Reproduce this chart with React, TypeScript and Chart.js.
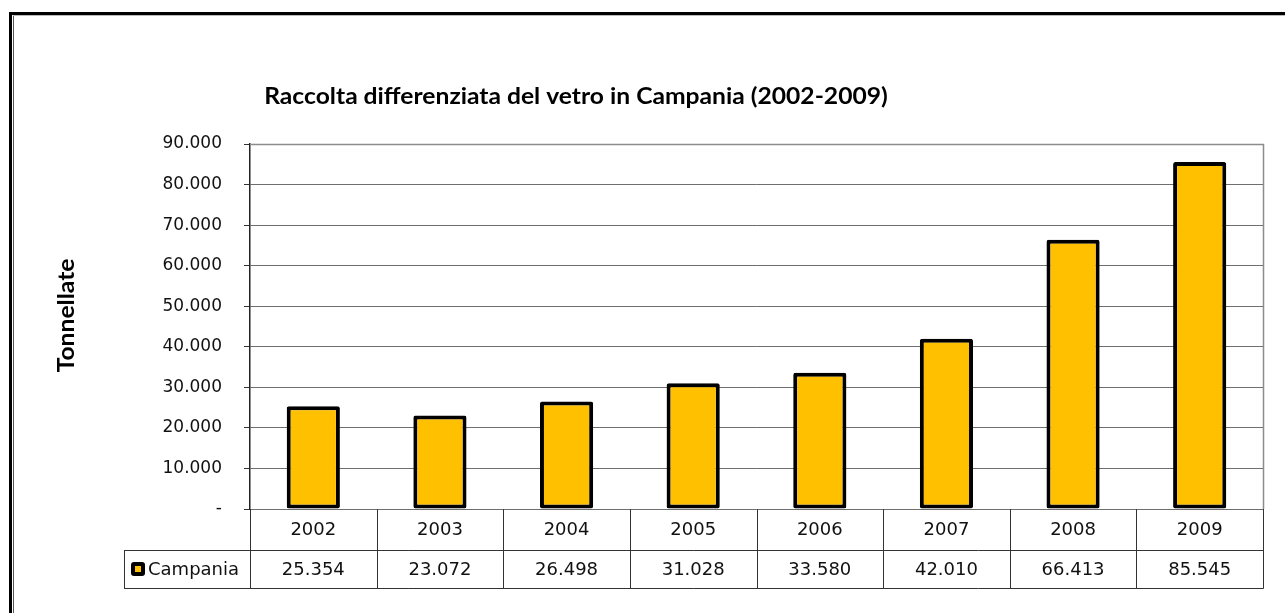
import React, { useEffect, useRef } from "react";
import { Chart, registerables } from "chart.js";

Chart.register(...registerables);

const TITLE = "Raccolta differenziata del vetro in Campania (2002-2009)";
const Y_TITLE = "Tonnellate";
const SERIES_NAME = "Campania";
const YEARS = ["2002", "2003", "2004", "2005", "2006", "2007", "2008", "2009"];
const VALUES = [25354, 23072, 26498, 31028, 33580, 42010, 66413, 85545];
const Y_MIN = 0;
const Y_MAX = 90000;
const Y_STEP = 10000;

const BAR_FILL = "#FFC000";
const TICK_FONT = "DejaVu Sans";
const TITLE_FONT = "Lato";
const TITLE_STRETCH = 1.12;

function fmt(n: number): string {
  if (n === 0) return "-";
  return String(n).replace(/\B(?=(\d{3})+(?!\d))/g, ".");
}

const framePlugin = {
  id: "frame",
  beforeDraw(chart: any) {
    const { ctx, width, height } = chart;
    ctx.save();
    ctx.fillStyle = "#ffffff";
    ctx.fillRect(0, 0, width, height);
    ctx.fillStyle = "#000";
    ctx.fillRect(9, 12, 3, height - 12);
    ctx.fillRect(9, 12, width - 9, 3);
    ctx.fillStyle = "#555";
    ctx.fillRect(13, 15, 1, height - 15);
    ctx.fillStyle = "#bbb";
    ctx.fillRect(13, 15, width - 13, 1);
    ctx.restore();
  },
};

const titlePlugin = {
  id: "customTitle",
  afterDraw(chart: any) {
    const { ctx, chartArea } = chart;
    ctx.save();
    ctx.fillStyle = "#000";
    ctx.font = `bold 22px ${TITLE_FONT}`;
    ctx.textAlign = "center";
    ctx.textBaseline = "alphabetic";
    ctx.translate(576, 104);
    ctx.scale(TITLE_STRETCH, 1);
    ctx.fillText(TITLE, 0, 0);
    ctx.restore();

    // axis title
    ctx.save();
    ctx.fillStyle = "#000";
    ctx.font = `bold 22px ${TITLE_FONT}`;
    ctx.textAlign = "center";
    ctx.textBaseline = "middle";
    ctx.translate(67, (chartArea.top + chartArea.bottom) / 2 - 11);
    ctx.rotate(-Math.PI / 2);
    ctx.scale(TITLE_STRETCH, 1);
    ctx.fillText(Y_TITLE, 0, 0);
    ctx.restore();
  },
};

const plotBorderPlugin = {
  id: "plotBorder",
  beforeDatasetsDraw(chart: any) {
    const { ctx, chartArea } = chart;
    const { left, right, top, bottom } = chartArea;
    ctx.save();
    ctx.strokeStyle = "#8c8c8c";
    ctx.lineWidth = 1.5;
    ctx.beginPath();
    ctx.moveTo(left, top + 0.5);
    ctx.lineTo(right + 0.5, top + 0.5);
    ctx.lineTo(right + 0.5, bottom);
    ctx.stroke();
    ctx.restore();
  },
};

const tablePlugin = {
  id: "dataTable",
  afterDraw(chart: any) {
    const { ctx, chartArea } = chart;
    const { left, right, bottom } = chartArea;
    const xs = chart.scales.x;
    const n = YEARS.length;
    const centers = YEARS.map((_, i) => xs.getPixelForValue(i));
    const bounds: number[] = [left];
    for (let i = 1; i < n; i++) bounds.push((centers[i - 1] + centers[i]) / 2);
    bounds.push(right);
    const y1 = bottom;
    const y2 = bottom + 41;
    const y3 = y2 + 38;
    const legendLeft = 124;

    ctx.save();
    ctx.strokeStyle = "#333";
    ctx.lineWidth = 1;
    const px = (v: number) => Math.round(v) + 0.5;
    ctx.beginPath();
    ctx.moveTo(legendLeft, px(y2));
    ctx.lineTo(px(right), px(y2));
    ctx.moveTo(legendLeft, px(y3));
    ctx.lineTo(px(right), px(y3));
    bounds.forEach((b) => {
      ctx.moveTo(px(b), y1);
      ctx.lineTo(px(b), px(y3));
    });
    ctx.moveTo(px(legendLeft), px(y2));
    ctx.lineTo(px(legendLeft), px(y3));
    ctx.stroke();

    ctx.fillStyle = "#111";
    ctx.font = `18px ${TICK_FONT}`;
    ctx.textAlign = "center";
    ctx.textBaseline = "middle";
    YEARS.forEach((yr, i) => {
      ctx.fillText(yr, centers[i], (y1 + y2) / 2 + 1);
      ctx.fillText(fmt(VALUES[i]), centers[i], (y2 + y3) / 2 + 1);
    });

    const kx = 131;
    const ky = (y2 + y3) / 2 - 7;
    ctx.fillStyle = "#000";
    ctx.beginPath();
    if ((ctx as any).roundRect) (ctx as any).roundRect(kx, ky, 14, 14, 3);
    else ctx.rect(kx, ky, 14, 14);
    ctx.fill();
    ctx.fillStyle = BAR_FILL;
    ctx.fillRect(kx + 4, ky + 4, 6, 6);

    ctx.fillStyle = "#111";
    ctx.textAlign = "left";
    ctx.fillText(SERIES_NAME, 148, (y2 + y3) / 2 + 1);
    ctx.restore();
  },
};

export default function App() {
  const ref = useRef<HTMLCanvasElement | null>(null);

  useEffect(() => {
    if (!ref.current) return;
    const chart = new Chart(ref.current, {
      type: "bar",
      data: {
        labels: YEARS,
        datasets: [
          {
            label: SERIES_NAME,
            data: VALUES,
            backgroundColor: BAR_FILL,
            borderColor: "#000",
            borderWidth: 4,
            borderSkipped: false,
            borderRadius: 2,
            barPercentage: 0.42,
            categoryPercentage: 1,
          },
        ],
      },
      options: {
        responsive: false,
        animation: false,
        layout: { padding: { left: 54, top: 144, right: 22, bottom: 104 } },
        plugins: {
          legend: { display: false },
          title: { display: false },
          tooltip: { enabled: false },
        },
        scales: {
          x: {
            display: false,
            offset: true,
          },
          y: {
            min: Y_MIN,
            max: Y_MAX,
            afterFit(scale: any) {
              scale.width = 196;
            },
            ticks: {
              stepSize: Y_STEP,
              padding: 22,
              color: "#111",
              font: { family: TICK_FONT, size: 17 },
              callback: (v: any) => fmt(Number(v)),
            },
            grid: {
              color: "#6e6e6e",
              lineWidth: 1,
              tickLength: 6,
              tickColor: "#333",
            },
            border: { display: true, color: "#222", width: 1.5 },
            title: { display: false },
          },
        },
      },
      plugins: [framePlugin, plotBorderPlugin, tablePlugin, titlePlugin],
    });
    return () => chart.destroy();
  }, []);

  return (
    <div style={{ position: "absolute", left: 0, top: 0, width: 1285, height: 613 }}>
      <canvas ref={ref} width={1285} height={613} style={{ display: "block" }} />
    </div>
  );
}
